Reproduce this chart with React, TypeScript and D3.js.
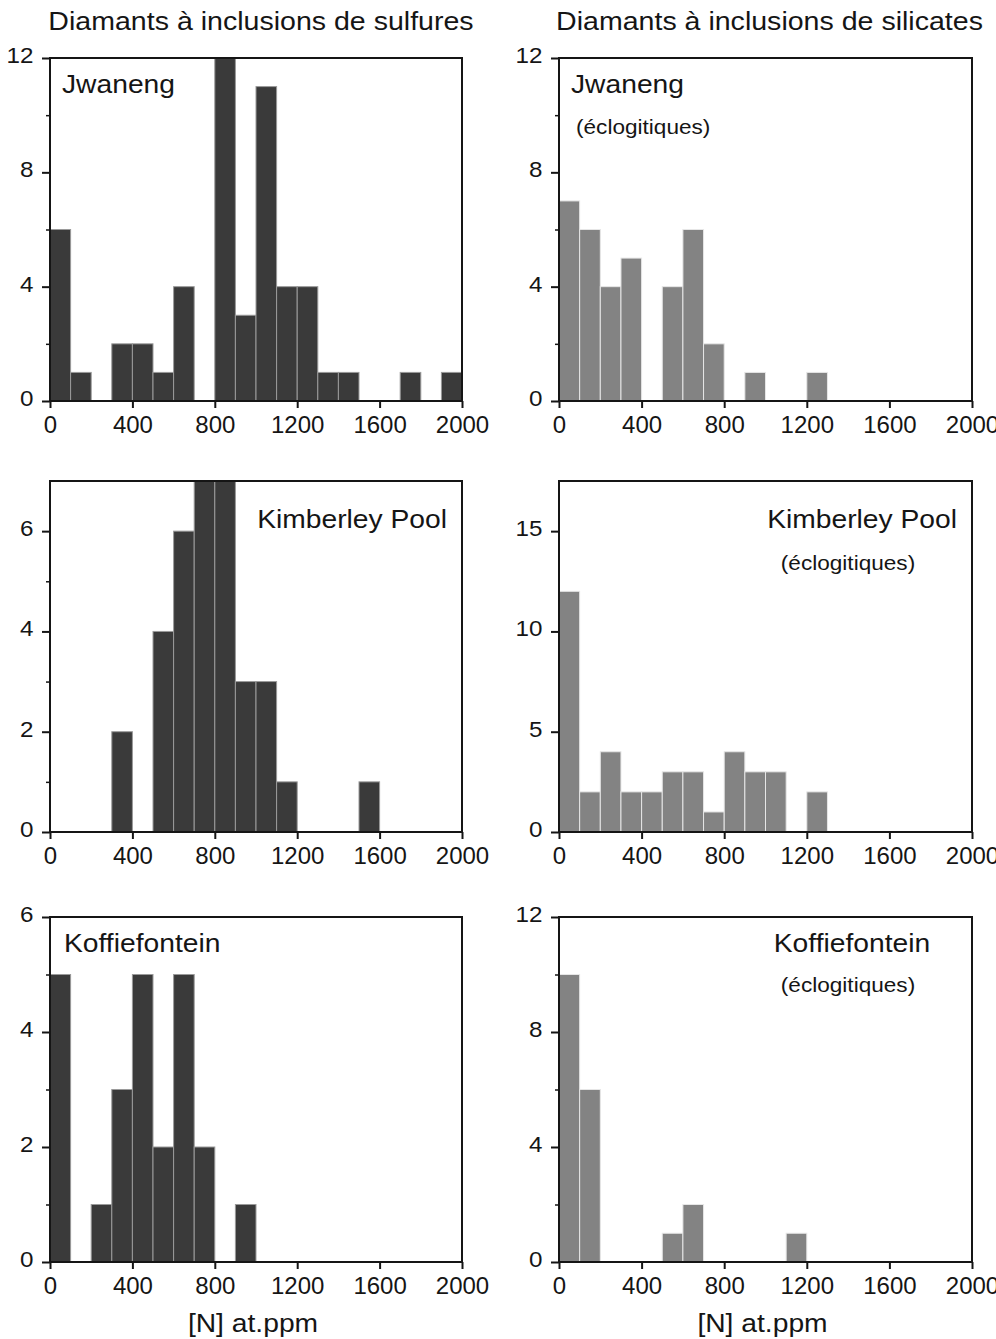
import { useEffect, useRef } from "react";
import * as d3 from "d3";

// bins of 100 at.ppm
const binStarts = [0, 100, 200, 300, 400, 500, 600, 700, 800, 900, 1000, 1100, 1200, 1300, 1400, 1500, 1600, 1700, 1800, 1900];
const binWidth = 100;

// counts per bin
const jwanengSulfures = [6, 1, 0, 2, 2, 1, 4, 0, 12, 3, 11, 4, 4, 1, 1, 0, 0, 1, 0, 1];
const jwanengSilicates = [7, 6, 4, 5, 0, 4, 6, 2, 0, 1, 0, 0, 1, 0, 0, 0, 0, 0, 0, 0];
const kimberleySulfures = [0, 0, 0, 2, 0, 4, 6, 7, 7, 3, 3, 1, 0, 0, 0, 1, 0, 0, 0, 0];
const kimberleySilicates = [12, 2, 4, 2, 2, 3, 3, 1, 4, 3, 3, 0, 2, 0, 0, 0, 0, 0, 0, 0];
const koffieSulfures = [5, 0, 1, 3, 5, 2, 5, 2, 0, 1, 0, 0, 0, 0, 0, 0, 0, 0, 0, 0];
const koffieSilicates = [10, 6, 0, 0, 0, 1, 2, 0, 0, 0, 0, 1, 0, 0, 0, 0, 0, 0, 0, 0];

const xTicks = [0, 400, 800, 1200, 1600, 2000];
const yTicks12 = [0, 4, 8, 12];
const yMinor12 = [2, 6, 10];
const yTicks6 = [0, 2, 4, 6];
const yMinor6 = [1, 3, 5];
const yTicks15 = [0, 5, 10, 15];

const titles = ["Diamants à inclusions de sulfures", "Diamants à inclusions de silicates"];
const xLabel = "[N] at.ppm";

const FONT = '"Liberation Sans", Arial, Helvetica, sans-serif';
const INK = "#151515";
const DARK = "#3a3a3a";
const GREY = "#838383";

type Label = { text: string; size: number; x: number; y: number; anchor: string; fromRight?: boolean };

type Panel = {
  counts: number[];
  yMax: number;
  yTicks: number[];
  yMinor: number[];
  fill: string;
  sep: string;
  left: number;
  right: number;
  top: number;
  bottom: number;
  labels: Label[];
  xTitle?: boolean;
};

const COLS = [
  { left: 50, right: 462 },
  { left: 559, right: 972 },
];
const ROWS = [
  { top: 58, bottom: 401 },
  { top: 481, bottom: 832 },
  { top: 917, bottom: 1262 },
];

const panels: Panel[] = [
  {
    counts: jwanengSulfures, yMax: 12, yTicks: yTicks12, yMinor: yMinor12, fill: DARK, sep: "#9a9a9a",
    ...COLS[0], ...ROWS[0],
    labels: [{ text: "Jwaneng", size: 25, x: 12, y: 35, anchor: "start" }],
  },
  {
    counts: jwanengSilicates, yMax: 12, yTicks: yTicks12, yMinor: yMinor12, fill: GREY, sep: "#e6e6e6",
    ...COLS[1], ...ROWS[0],
    labels: [
      { text: "Jwaneng", size: 25, x: 12, y: 35, anchor: "start" },
      { text: "(éclogitiques)", size: 20, x: 17, y: 76, anchor: "start" },
    ],
  },
  {
    counts: kimberleySulfures, yMax: 7, yTicks: yTicks6, yMinor: yMinor6, fill: DARK, sep: "#9a9a9a",
    ...COLS[0], ...ROWS[1],
    labels: [{ text: "Kimberley Pool", size: 25, x: -15, y: 47, anchor: "end", fromRight: true }],
  },
  {
    counts: kimberleySilicates, yMax: 17.5, yTicks: yTicks15, yMinor: [], fill: GREY, sep: "#e6e6e6",
    ...COLS[1], ...ROWS[1],
    labels: [
      { text: "Kimberley Pool", size: 25, x: -15, y: 47, anchor: "end", fromRight: true },
      { text: "(éclogitiques)", size: 20, x: -124, y: 89, anchor: "middle", fromRight: true },
    ],
  },
  {
    counts: koffieSulfures, yMax: 6, yTicks: yTicks6, yMinor: yMinor6, fill: DARK, sep: "#9a9a9a",
    ...COLS[0], ...ROWS[2], xTitle: true,
    labels: [{ text: "Koffiefontein", size: 25, x: 14, y: 35, anchor: "start" }],
  },
  {
    counts: koffieSilicates, yMax: 12, yTicks: yTicks12, yMinor: yMinor12, fill: GREY, sep: "#e6e6e6",
    ...COLS[1], ...ROWS[2], xTitle: true,
    labels: [
      { text: "Koffiefontein", size: 25, x: -120, y: 35, anchor: "middle", fromRight: true },
      { text: "(éclogitiques)", size: 20, x: -124, y: 75, anchor: "middle", fromRight: true },
    ],
  },
];

function App() {
  const svgRef = useRef<SVGSVGElement | null>(null);

  useEffect(() => {
    const svg = d3.select(svgRef.current);
    svg.selectAll("*").remove();

    // column titles
    titles.forEach((t, i) => {
      const cx = (COLS[i].left + COLS[i].right) / 2 + (i === 0 ? 5 : 4);
      svg.append("text")
        .attr("transform", `translate(${cx},30) scale(1.12,1)`)
        .attr("text-anchor", "middle")
        .attr("font-family", FONT)
        .attr("font-size", 25.5)
        .attr("fill", INK)
        .text(t);
    });

    panels.forEach((p) => {
      const x = d3.scaleLinear().domain([0, 2000]).range([p.left, p.right]);
      const y = d3.scaleLinear().domain([0, p.yMax]).range([p.bottom, p.top]);
      const g = svg.append("g");

      const bins = binStarts
        .map((s, i) => ({ s, c: p.counts[i] }))
        .filter((d) => d.c > 0);

      g.selectAll("rect.bar")
        .data(bins)
        .enter()
        .append("rect")
        .attr("class", "bar")
        .attr("x", (d) => x(d.s))
        .attr("width", (d) => x(d.s + binWidth) - x(d.s))
        .attr("y", (d) => y(d.c))
        .attr("height", (d) => y(0) - y(d.c))
        .attr("fill", p.fill)
        .attr("stroke", p.sep)
        .attr("stroke-width", 1);

      // frame
      g.append("rect")
        .attr("x", p.left)
        .attr("y", p.top)
        .attr("width", p.right - p.left)
        .attr("height", p.bottom - p.top)
        .attr("fill", "none")
        .attr("stroke", INK)
        .attr("stroke-width", 2);

      // x axis
      const xa = g.append("g")
        .attr("transform", `translate(0,${p.bottom})`)
        .call(d3.axisBottom(x).tickValues(xTicks).tickSize(7).tickFormat(d3.format("d")));
      xa.select(".domain").remove();
      xa.selectAll("line").attr("stroke", INK).attr("stroke-width", 2);
      xa.selectAll("text")
        .attr("y", 32)
        .attr("dy", null)
        .attr("font-size", 24)
        .attr("font-family", FONT)
        .attr("fill", INK);

      // y axis
      const ya = g.append("g")
        .attr("transform", `translate(${p.left},0)`)
        .call(d3.axisLeft(y).tickValues(p.yTicks).tickSize(8).tickPadding(7).tickFormat(d3.format("d")));
      ya.select(".domain").remove();
      ya.selectAll("line").attr("stroke", INK).attr("stroke-width", 2);
      ya.selectAll("text")
        .attr("dy", "0.2em")
        .attr("transform", "scale(1.1,1)")
        .attr("font-size", 22)
        .attr("font-family", FONT)
        .attr("fill", INK);

      if (p.yMinor.length) {
        const ym = g.append("g")
          .attr("transform", `translate(${p.left},0)`)
          .call(d3.axisLeft(y).tickValues(p.yMinor).tickSize(4).tickFormat(() => ""));
        ym.select(".domain").remove();
        ym.selectAll("line").attr("stroke", INK).attr("stroke-width", 1.5);
      }

      // panel labels
      p.labels.forEach((l) => {
        const lx = (l.fromRight ? p.right : p.left) + l.x;
        g.append("text")
          .attr("transform", `translate(${lx},${p.top + l.y}) scale(1.13,1)`)
          .attr("text-anchor", l.anchor)
          .attr("font-family", FONT)
          .attr("font-size", l.size)
          .attr("fill", INK)
          .text(l.text);
      });

      if (p.xTitle) {
        g.append("text")
          .attr("transform", `translate(${(p.left + p.right) / 2 - 3},${p.bottom + 70}) scale(1.13,1)`)
          .attr("text-anchor", "middle")
          .attr("font-family", FONT)
          .attr("font-size", 25)
          .attr("fill", INK)
          .text(xLabel);
      }
    });
  }, []);

  return (
    <div style={{ position: "absolute", left: 0, top: 0, width: 996, height: 1339, background: "#fff" }}>
      <svg ref={svgRef} width={996} height={1339} style={{ display: "block" }}></svg>
    </div>
  );
}

export default App;
